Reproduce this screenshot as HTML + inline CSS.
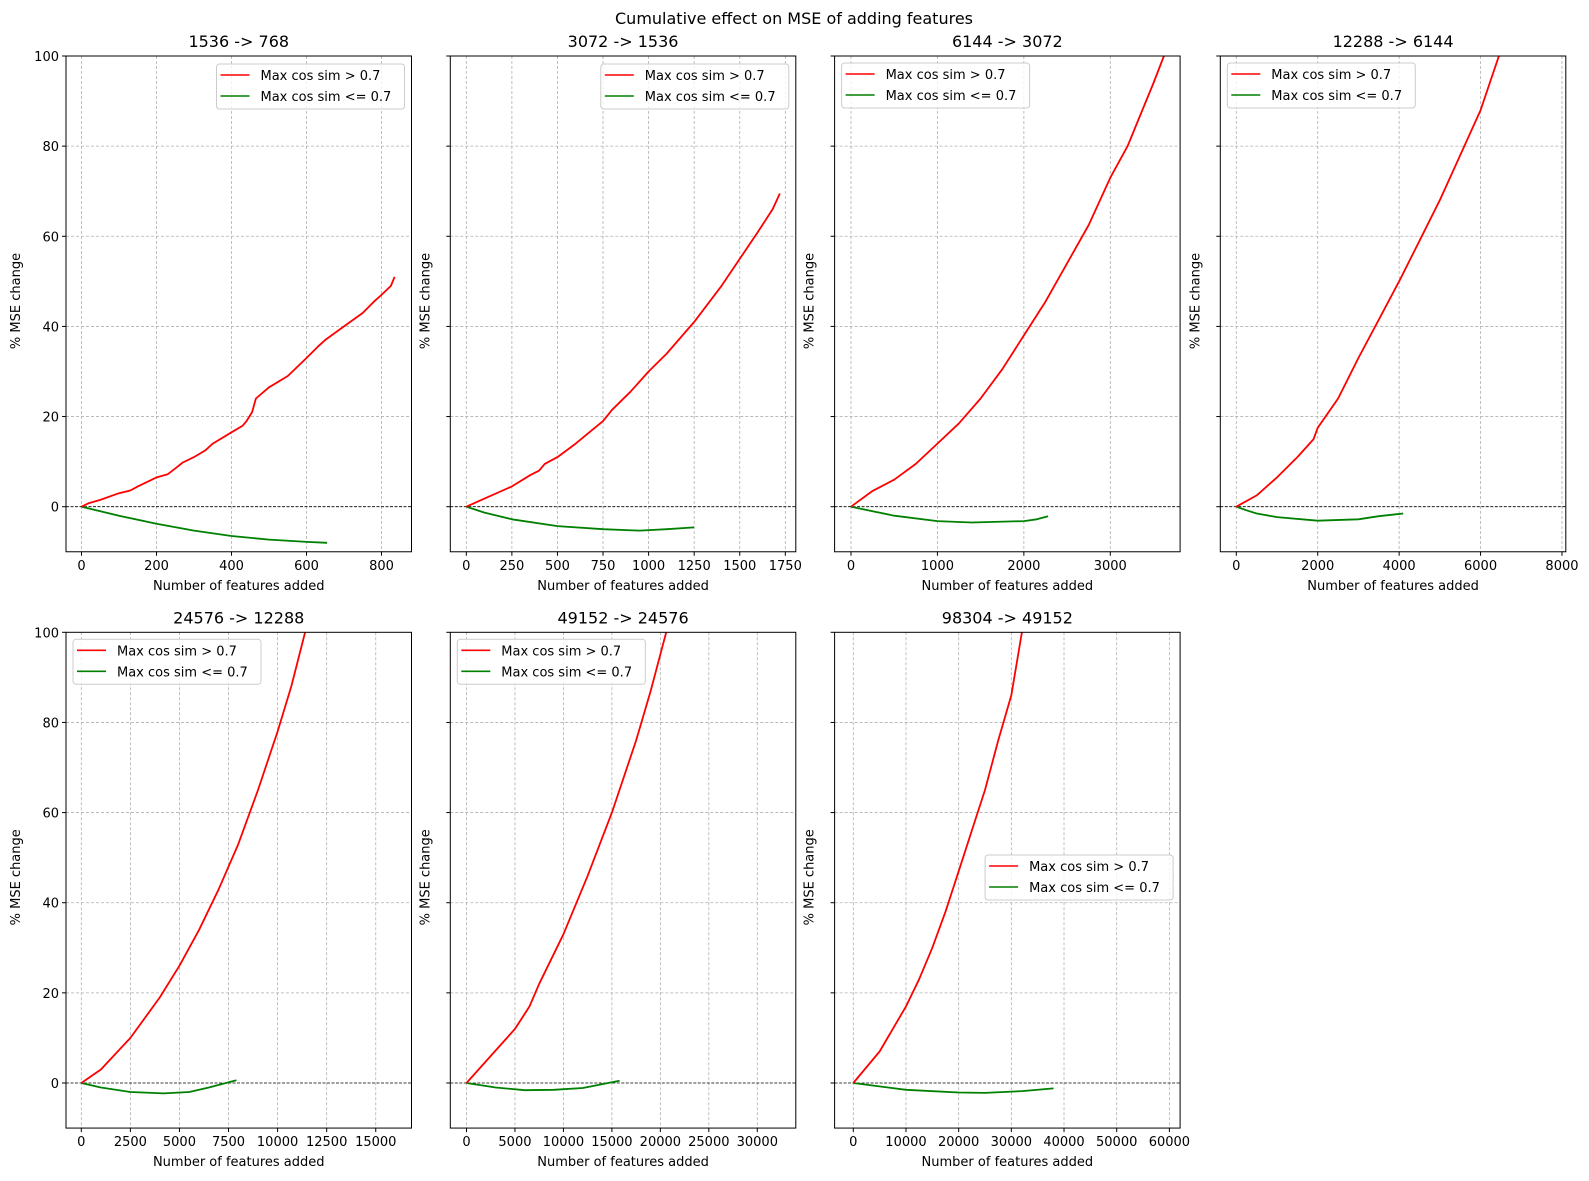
<!DOCTYPE html>
<html><head><meta charset="utf-8"><style>body{margin:0;background:#fff}svg{display:block;font-family:"DejaVu Sans","Liberation Sans",sans-serif}</style></head>
<body><svg id="s" width="1589" height="1181" viewBox="0 0 1589 1181" xmlns="http://www.w3.org/2000/svg"></svg>
<script>
const S=document.getElementById('s');let h='';
h+='<rect width="1589" height="1181" fill="#fff"/>';
h+='<text x="794" y="24" font-size="16" text-anchor="middle">Cumulative effect on MSE of adding features</text>';
const W=345.5,SC=4.507;
const P=[
{l:66,t:56,z:81.5,k:0.375,ti:'1536 -> 768',xt:[0,200,400,600,800],lg:'r',
 r:[[0,0],[20,0.8],[50,1.5],[100,3],[130,3.6],[150,4.5],[200,6.5],[230,7.2],[250,8.5],[270,9.8],[300,11],[330,12.5],[350,14],[400,16.5],[430,18],[440,19],[455,21],[465,24],[500,26.5],[550,29],[600,33],[630,35.5],[650,37],[700,40],[750,43],[780,45.5],[800,47],[825,49],[835,51]],
 g:[[0,0],[100,-2],[200,-3.8],[300,-5.3],[400,-6.5],[500,-7.3],[600,-7.8],[655,-8]]},
{l:450.3,t:56,z:466.3,k:0.1823,ti:'3072 -> 1536',xt:[0,250,500,750,1000,1250,1500,1750],lg:'r',
 r:[[0,0],[100,1.8],[250,4.5],[350,7],[400,8],[430,9.5],[500,11],[600,14],[750,19],[800,21.5],[900,25.5],[1000,30],[1100,34],[1250,41],[1400,49],[1500,55],[1600,61],[1680,66],[1720,69.5]],
 g:[[0,0],[100,-1.3],[250,-2.8],[500,-4.3],[750,-5],[950,-5.3],[1100,-5],[1250,-4.6]]},
{l:834.6,t:56,z:851,k:0.08643,ti:'6144 -> 3072',xt:[0,1000,2000,3000],lg:'l',
 r:[[0,0],[250,3.5],[500,6],[750,9.5],[1000,14],[1250,18.5],[1500,24],[1750,30.5],[2000,38],[2250,45.5],[2500,54],[2750,62.5],[3000,73],[3200,80],[3350,87],[3500,94],[3620,100]],
 g:[[0,0],[250,-1],[500,-2],[1000,-3.2],[1400,-3.5],[2000,-3.2],[2150,-2.8],[2280,-2.1]]},
{l:1220.3,t:56,z:1236.3,k:0.04071,ti:'12288 -> 6144',xt:[0,2000,4000,6000,8000],lg:'l',
 r:[[0,0],[500,2.5],[1000,6.5],[1500,11],[1900,15],[2000,17.5],[2500,24],[3000,33],[3500,41.5],[4000,50],[4500,59],[5000,68],[5500,78],[6000,88],[6450,100]],
 g:[[0,0],[250,-0.8],[500,-1.5],[1000,-2.3],[2000,-3.1],[3000,-2.8],[3500,-2.1],[4100,-1.5]]},
{l:66,t:632.3,z:81.3,k:0.01963,ti:'24576 -> 12288',xt:[0,2500,5000,7500,10000,12500,15000],lg:'l',
 r:[[0,0],[1000,3],[2500,10],[4000,19],[5000,26],[6000,34],[7000,43],[8000,53],[9000,65],[10000,78],[10700,88],[11400,100]],
 g:[[0,0],[1000,-1],[2500,-2],[4200,-2.3],[5500,-2],[6500,-1],[7900,0.6]]},
{l:450.3,t:632.3,z:466.5,k:0.009693,ti:'49152 -> 24576',xt:[0,5000,10000,15000,20000,25000,30000],lg:'l',
 r:[[0,0],[2500,6],[5000,12],[6500,17],[7500,22],[10000,33],[12500,46],[15000,60],[17500,76],[19000,87],[20600,100]],
 g:[[0,0],[3000,-1],[6000,-1.6],[9000,-1.5],[12000,-1.1],[15800,0.5]]},
{l:834.6,t:632.3,z:853.3,k:0.005268,ti:'98304 -> 49152',xt:[0,10000,20000,30000,40000,50000,60000],lg:'m',
 r:[[0,0],[5000,7],[7500,12],[10000,17],[12500,23],[15000,30],[17500,38],[20000,47],[22500,56],[25000,65],[27500,76],[30000,86],[32000,100]],
 g:[[0,0],[10000,-1.5],[20000,-2.1],[25000,-2.2],[32000,-1.8],[38000,-1.2]]}
];
P.forEach((p,i)=>{
 const y0=p.t+100*SC,B=p.t+110*SC,R=p.l+W;
 const X=v=>p.z+v*p.k,Y=v=>y0-v*SC;
 h+=`<defs><clipPath id="c${i}"><rect x="${p.l}" y="${p.t}" width="${W}" height="${110*SC}"/></clipPath></defs>`;
 p.xt.forEach(v=>{const x=X(v);h+=`<line x1="${x}" y1="${p.t}" x2="${x}" y2="${B}" stroke="#b0b0b0" stroke-width="0.8" stroke-dasharray="3,2"/>`;
  h+=`<line x1="${x}" y1="${B}" x2="${x}" y2="${B+4}" stroke="#000"/>`;
  h+=`<text x="${x}" y="${B+18}" font-size="13" text-anchor="middle">${v}</text>`;});
 [0,20,40,60,80,100].forEach(v=>{const y=Y(v);
  if(v>0&&v<100)h+=`<line x1="${p.l}" y1="${y}" x2="${R}" y2="${y}" stroke="#b0b0b0" stroke-width="0.8" stroke-dasharray="3,2"/>`;
  h+=`<line x1="${p.l-4}" y1="${y}" x2="${p.l}" y2="${y}" stroke="#000"/>`;
  if(i==0||i==4)h+=`<text x="${p.l-7}" y="${y+5}" font-size="13" text-anchor="end">${v}</text>`;});
 h+=`<line x1="${p.l}" y1="${y0}" x2="${R}" y2="${y0}" stroke="#000" stroke-width="0.8" stroke-dasharray="3,1.5"/>`;
 const pl=(d,c)=>`<polyline clip-path="url(#c${i})" fill="none" stroke="${c}" stroke-width="1.8" stroke-linejoin="round" points="${d.map(q=>X(q[0]).toFixed(1)+','+Y(q[1]).toFixed(1)).join(' ')}"/>`;
 h+=pl(p.g,'green')+pl(p.r,'red');
 h+=`<rect x="${p.l}" y="${p.t}" width="${W}" height="${110*SC}" fill="none" stroke="#000" stroke-width="1"/>`;
 h+=`<text x="${p.l+W/2}" y="${p.t-9}" font-size="16" text-anchor="middle">${p.ti}</text>`;
 h+=`<text x="${p.l+W/2}" y="${B+38}" font-size="13" text-anchor="middle">Number of features added</text>`;
 const off=(i==0||i==4)?46:21;
 h+=`<text transform="translate(${p.l-off},${p.t+245}) rotate(-90)" font-size="13" text-anchor="middle">% MSE change</text>`;
 let lx,ly;const lw=188,lh=45;
 if(p.lg=='r'){lx=R-7-lw;ly=p.t+8}else if(p.lg=='l'){lx=p.l+7;ly=p.t+7}else{lx=R-7-lw;ly=855}
 h+=`<rect x="${lx}" y="${ly}" width="${lw}" height="${lh}" rx="3" fill="#fff" fill-opacity="0.8" stroke="#ccc"/>`;
 h+=`<line x1="${lx+4}" y1="${ly+11}" x2="${lx+33}" y2="${ly+11}" stroke="red" stroke-width="1.6"/>`;
 h+=`<line x1="${lx+4}" y1="${ly+32}" x2="${lx+33}" y2="${ly+32}" stroke="green" stroke-width="1.6"/>`;
 h+=`<text x="${lx+44}" y="${ly+16}" font-size="13">Max cos sim &gt; 0.7</text>`;
 h+=`<text x="${lx+44}" y="${ly+37}" font-size="13">Max cos sim &lt;= 0.7</text>`;
});
S.innerHTML=h;
</script></body></html>
